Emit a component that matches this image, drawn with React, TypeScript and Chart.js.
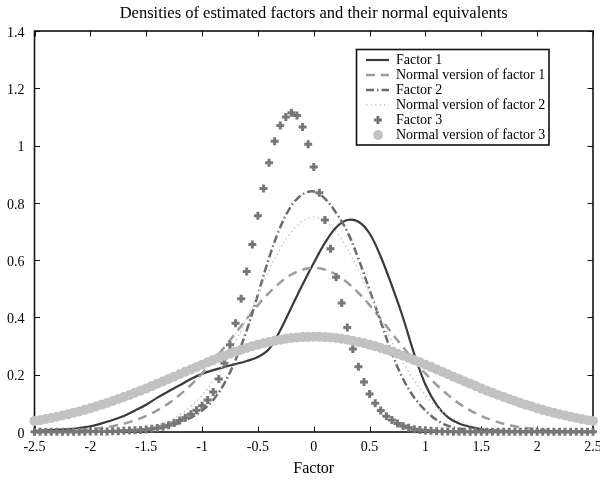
import React, { useEffect, useRef } from "react";
import { Chart, registerables } from "chart.js";

Chart.register(...registerables);

// ---------- data ----------
const chartTitle = "Densities of estimated factors and their normal equivalents";
const xAxisTitle = "Factor";
const seriesLabels = [
  "Factor 1",
  "Normal version of factor 1",
  "Factor 2",
  "Normal version of factor 2",
  "Factor 3",
  "Normal version of factor 3",
];

const xTicks = [-2.5, -2, -1.5, -1, -0.5, 0, 0.5, 1, 1.5, 2, 2.5];
const yTicks = [0, 0.2, 0.4, 0.6, 0.8, 1, 1.2, 1.4];

// grid of the line series (step 0.1)
const xCoarse = [
  -2.5, -2.4, -2.3, -2.2, -2.1, -2.0, -1.9, -1.8, -1.7, -1.6,
  -1.5, -1.4, -1.3, -1.2, -1.1, -1.0, -0.9, -0.8, -0.7, -0.6,
  -0.5, -0.4, -0.3, -0.2, -0.1, 0.0, 0.1, 0.2, 0.3, 0.4,
  0.5, 0.6, 0.7, 0.8, 0.9, 1.0, 1.1, 1.2, 1.3, 1.4,
  1.5, 1.6, 1.7, 1.8, 1.9, 2.0, 2.1, 2.2, 2.3, 2.4, 2.5,
];

// grid of the marker series (step 0.05)
const xFine = [
  -2.5, -2.45, -2.4, -2.35, -2.3, -2.25, -2.2, -2.15, -2.1, -2.05,
  -2.0, -1.95, -1.9, -1.85, -1.8, -1.75, -1.7, -1.65, -1.6, -1.55,
  -1.5, -1.45, -1.4, -1.35, -1.3, -1.25, -1.2, -1.15, -1.1, -1.05,
  -1.0, -0.95, -0.9, -0.85, -0.8, -0.75, -0.7, -0.65, -0.6, -0.55,
  -0.5, -0.45, -0.4, -0.35, -0.3, -0.25, -0.2, -0.15, -0.1, -0.05,
  0.0, 0.05, 0.1, 0.15, 0.2, 0.25, 0.3, 0.35, 0.4, 0.45,
  0.5, 0.55, 0.6, 0.65, 0.7, 0.75, 0.8, 0.85, 0.9, 0.95,
  1.0, 1.05, 1.1, 1.15, 1.2, 1.25, 1.3, 1.35, 1.4, 1.45,
  1.5, 1.55, 1.6, 1.65, 1.7, 1.75, 1.8, 1.85, 1.9, 1.95,
  2.0, 2.05, 2.1, 2.15, 2.2, 2.25, 2.3, 2.35, 2.4, 2.45, 2.5,
];

const factor1 = [
  0.004, 0.006, 0.008, 0.010, 0.014, 0.020, 0.030, 0.042, 0.056, 0.075,
  0.095, 0.120, 0.142, 0.163, 0.185, 0.203, 0.216, 0.227, 0.237, 0.248,
  0.262, 0.290, 0.355, 0.435, 0.515, 0.590, 0.660, 0.714, 0.740, 0.734,
  0.693, 0.612, 0.510, 0.398, 0.272, 0.165, 0.095, 0.052, 0.030, 0.018,
  0.010, 0.006, 0.004, 0.003, 0.002, 0.001, 0.001, 0.001, 0.000, 0.000, 0.000,
];

const normal1 = [
  0.0009, 0.0015, 0.0024, 0.0039, 0.0060, 0.0092, 0.0138, 0.0202, 0.0290, 0.0408,
  0.0562, 0.0758, 0.100, 0.130, 0.164, 0.204, 0.248, 0.296, 0.345, 0.395,
  0.443, 0.486, 0.522, 0.550, 0.567, 0.573, 0.567, 0.550, 0.522, 0.486,
  0.443, 0.395, 0.345, 0.296, 0.248, 0.204, 0.164, 0.130, 0.100, 0.0758,
  0.0562, 0.0408, 0.0290, 0.0202, 0.0138, 0.0092, 0.0060, 0.0039, 0.0024, 0.0015, 0.0009,
];

const factor2 = [
  0.000, 0.000, 0.001, 0.001, 0.001, 0.001, 0.002, 0.002, 0.003, 0.004,
  0.007, 0.012, 0.020, 0.032, 0.050, 0.075, 0.112, 0.170, 0.252, 0.355,
  0.480, 0.608, 0.715, 0.790, 0.830, 0.840, 0.815, 0.765, 0.700, 0.605,
  0.495, 0.385, 0.275, 0.185, 0.120, 0.075, 0.042, 0.022, 0.012, 0.007,
  0.004, 0.003, 0.002, 0.001, 0.001, 0.001, 0.000, 0.000, 0.000, 0.000, 0.000,
];

const normal2 = [
  0.0, 0.0, 0.0, 0.0001, 0.0003, 0.0006, 0.0013, 0.0024, 0.0045, 0.0081,
  0.0141, 0.0235, 0.0378, 0.0589, 0.0886, 0.128, 0.179, 0.242, 0.315, 0.397,
  0.482, 0.565, 0.640, 0.699, 0.737, 0.750, 0.737, 0.699, 0.640, 0.565,
  0.482, 0.397, 0.315, 0.242, 0.179, 0.128, 0.0886, 0.0589, 0.0378, 0.0235,
  0.0141, 0.0081, 0.0045, 0.0024, 0.0013, 0.0006, 0.0003, 0.0001, 0.0, 0.0, 0.0,
];

const factor3 = [
  0.001, 0.001, 0.001, 0.001, 0.001, 0.001, 0.001, 0.001, 0.001, 0.001,
  0.002, 0.002, 0.002, 0.002, 0.003, 0.003, 0.004, 0.005, 0.006, 0.007,
  0.009, 0.011, 0.014, 0.018, 0.024, 0.031, 0.040, 0.050, 0.062, 0.076,
  0.092, 0.112, 0.140, 0.185, 0.240, 0.305, 0.380, 0.465, 0.560, 0.655,
  0.755, 0.850, 0.940, 1.015, 1.070, 1.100, 1.115, 1.105, 1.065, 1.005,
  0.925, 0.835, 0.740, 0.640, 0.540, 0.450, 0.365, 0.290, 0.228, 0.175,
  0.133, 0.100, 0.075, 0.055, 0.042, 0.030, 0.021, 0.015, 0.010, 0.007,
  0.005, 0.004, 0.003, 0.002, 0.002, 0.001, 0.001, 0.001, 0.001, 0.001,
  0.001, 0.001, 0.001, 0.001, 0.001, 0.001, 0.001, 0.001, 0.001, 0.001,
  0.001, 0.001, 0.001, 0.001, 0.001, 0.001, 0.001, 0.001, 0.001, 0.001, 0.001,
];

const normal3 = [
  0.0381, 0.0414, 0.0450, 0.0489, 0.0530, 0.0573, 0.0619, 0.0668, 0.0719, 0.0773,
  0.0829, 0.0888, 0.0950, 0.1013, 0.1080, 0.1149, 0.1220, 0.1293, 0.1368, 0.1444,
  0.1522, 0.1602, 0.1684, 0.1766, 0.1849, 0.1933, 0.2017, 0.2101, 0.2185, 0.2268,
  0.2350, 0.2431, 0.2510, 0.2588, 0.2663, 0.2735, 0.2805, 0.2872, 0.2934, 0.2994,
  0.3049, 0.3099, 0.3145, 0.3187, 0.3223, 0.3254, 0.3279, 0.3299, 0.3313, 0.3322,
  0.3325, 0.3322, 0.3313, 0.3299, 0.3279, 0.3254, 0.3223, 0.3187, 0.3145, 0.3099,
  0.3049, 0.2994, 0.2934, 0.2872, 0.2805, 0.2735, 0.2663, 0.2588, 0.2510, 0.2431,
  0.2350, 0.2268, 0.2185, 0.2101, 0.2017, 0.1933, 0.1849, 0.1766, 0.1684, 0.1602,
  0.1522, 0.1444, 0.1368, 0.1293, 0.1220, 0.1149, 0.1080, 0.1013, 0.0950, 0.0888,
  0.0829, 0.0773, 0.0719, 0.0668, 0.0619, 0.0573, 0.0530, 0.0489, 0.0450, 0.0414, 0.0381,
];

// ---------- styling ----------
const SERIF = '"Liberation Serif", "Times New Roman", serif';

const toPoints = (xs: number[], ys: number[]) => ys.map((y, i) => ({ x: xs[i], y }));

const frameAndLegendPlugin = {
  id: "frameAndLegend",
  beforeDatasetsDraw(chart: any) {
    const { ctx, chartArea } = chart;
    const { left, right, top, bottom } = chartArea;
    const xs = chart.scales.x;
    const ys = chart.scales.y;
    ctx.save();
    ctx.strokeStyle = "#111";
    ctx.lineWidth = 1;
    const tl = 5.5;
    ctx.beginPath();
    xTicks.forEach((v) => {
      const px = Math.round(xs.getPixelForValue(v)) + 0.5;
      ctx.moveTo(px, bottom);
      ctx.lineTo(px, bottom - tl);
      ctx.moveTo(px, top);
      ctx.lineTo(px, top + tl);
    });
    yTicks.forEach((v) => {
      const py = Math.round(ys.getPixelForValue(v)) + 0.5;
      ctx.moveTo(left, py);
      ctx.lineTo(left + tl, py);
      ctx.moveTo(right, py);
      ctx.lineTo(right - tl, py);
    });
    ctx.stroke();
    ctx.lineWidth = 1.6;
    ctx.strokeRect(left, top, right - left, bottom - top);
    ctx.restore();
  },
  afterDraw(chart: any) {
    const { ctx, chartArea } = chart;
    ctx.save();
    // title
    ctx.fillStyle = "#000";
    ctx.font = `16.5px ${SERIF}`;
    ctx.textAlign = "center";
    ctx.textBaseline = "alphabetic";
    ctx.fillText(chartTitle, (chartArea.left + chartArea.right) / 2, 17.5);

    // legend box
    const bx = 356.5, by = 49.5, bw = 192.5, bh = 95.5;
    ctx.fillStyle = "#fff";
    ctx.fillRect(bx, by, bw, bh);
    ctx.strokeStyle = "#111";
    ctx.lineWidth = 1.6;
    ctx.strokeRect(bx, by, bw, bh);

    chart.data.datasets.forEach((ds: any, i: number) => {
      const y = 60 + i * 15;
      const x0 = 366, x1 = 389, xm = 378;
      if (ds.showLine !== false) {
        ctx.save();
        ctx.strokeStyle = ds.borderColor;
        ctx.lineWidth = ds.borderWidth;
        ctx.setLineDash(ds.borderDash || []);
        ctx.beginPath();
        ctx.moveTo(x0, y);
        ctx.lineTo(x1, y);
        ctx.stroke();
        ctx.restore();
      } else if (ds.pointStyle === "cross") {
        ctx.save();
        ctx.strokeStyle = ds.pointBorderColor;
        ctx.lineWidth = ds.pointBorderWidth;
        const r = ds.pointRadius;
        ctx.beginPath();
        ctx.moveTo(xm - r, y);
        ctx.lineTo(xm + r, y);
        ctx.moveTo(xm, y - r);
        ctx.lineTo(xm, y + r);
        ctx.stroke();
        ctx.restore();
      } else {
        ctx.save();
        ctx.fillStyle = ds.pointBackgroundColor;
        ctx.beginPath();
        ctx.arc(xm, y, ds.pointRadius, 0, Math.PI * 2);
        ctx.fill();
        ctx.restore();
      }
      ctx.fillStyle = "#000";
      ctx.font = `14px ${SERIF}`;
      ctx.textAlign = "left";
      ctx.textBaseline = "middle";
      ctx.fillText(ds.label, 396, y + 0.5);
    });
    ctx.restore();
  },
};

const fmt = (v: number | string) => String(Number(Number(v).toFixed(2)));

export default function App() {
  const canvasRef = useRef<HTMLCanvasElement | null>(null);

  useEffect(() => {
    if (!canvasRef.current) return;
    const lineBase = {
      showLine: true,
      pointRadius: 0,
      pointHoverRadius: 0,
      fill: false,
      tension: 0.35,
      clip: false as const,
    };
    const chart = new Chart(canvasRef.current, {
      type: "line",
      data: {
        datasets: [
          {
            ...lineBase,
            label: seriesLabels[0],
            data: toPoints(xCoarse, factor1),
            borderColor: "#3a3a3a",
            borderWidth: 2.2,
            order: 6,
          },
          {
            ...lineBase,
            label: seriesLabels[1],
            data: toPoints(xCoarse, normal1),
            borderColor: "#9c9c9c",
            borderWidth: 2.5,
            borderDash: [9, 6],
            order: 5,
          },
          {
            ...lineBase,
            label: seriesLabels[2],
            data: toPoints(xCoarse, factor2),
            borderColor: "#6a6a6a",
            borderWidth: 2.5,
            borderDash: [8, 3, 1.5, 3],
            order: 4,
          },
          {
            ...lineBase,
            label: seriesLabels[3],
            data: toPoints(xCoarse, normal2),
            borderColor: "#c8c8c8",
            borderWidth: 1.5,
            borderDash: [1.5, 3],
            order: 3,
          },
          {
            label: seriesLabels[4],
            data: toPoints(xFine, factor3),
            showLine: false,
            pointStyle: "cross",
            pointRadius: 4,
            pointBorderWidth: 3,
            pointBorderColor: "#777777",
            pointBackgroundColor: "#777777",
            borderColor: "#777777",
            clip: false as const,
            order: 2,
          },
          {
            label: seriesLabels[5],
            data: toPoints(xFine, normal3),
            showLine: false,
            pointStyle: "circle",
            pointRadius: 5,
            pointBorderWidth: 0,
            pointBackgroundColor: "#c2c2c2",
            pointBorderColor: "#c2c2c2",
            borderColor: "#c2c2c2",
            backgroundColor: "#c2c2c2",
            clip: false as const,
            order: 1,
          },
        ] as any,
      },
      options: {
        animation: false,
        responsive: false,
        maintainAspectRatio: false,
        events: [],
        layout: { padding: { top: 31, right: 3.5, left: 0, bottom: 0 } },
        plugins: {
          legend: { display: false },
          title: { display: false },
          tooltip: { enabled: false },
        },
        scales: {
          x: {
            type: "linear",
            min: -2.5,
            max: 2.5,
            afterFit: (s: any) => {
              s.height = 51;
              s.paddingLeft = 0;
              s.paddingRight = 0;
            },
            afterBuildTicks: (s: any) => {
              s.ticks = xTicks.map((v) => ({ value: v }));
            },
            grid: { display: false, drawTicks: false },
            border: { display: false },
            ticks: {
              color: "#000",
              padding: 7,
              maxRotation: 0,
              autoSkip: false,
              font: { family: SERIF, size: 14 },
              callback: (v: any) => fmt(v),
            },
            title: {
              display: true,
              text: xAxisTitle,
              color: "#000",
              font: { family: SERIF, size: 16 },
              padding: { top: 0, bottom: 5 },
            },
          },
          y: {
            type: "linear",
            min: 0,
            max: 1.4,
            afterFit: (s: any) => {
              s.width = 34.5;
              s.paddingTop = 0;
              s.paddingBottom = 0;
            },
            afterBuildTicks: (s: any) => {
              s.ticks = yTicks.map((v) => ({ value: v }));
            },
            grid: { display: false, drawTicks: false },
            border: { display: false },
            ticks: {
              color: "#000",
              padding: 10,
              labelOffset: 2,
              autoSkip: false,
              font: { family: SERIF, size: 14 },
              callback: (v: any) => fmt(v),
            },
          },
        },
      } as any,
      plugins: [frameAndLegendPlugin],
    });
    return () => chart.destroy();
  }, []);

  return (
    <div style={{ position: "absolute", left: 0, top: 0, width: 600, height: 483, background: "#fff" }}>
      <canvas ref={canvasRef} width={600} height={483} style={{ display: "block", width: 600, height: 483 }} />
    </div>
  );
}
